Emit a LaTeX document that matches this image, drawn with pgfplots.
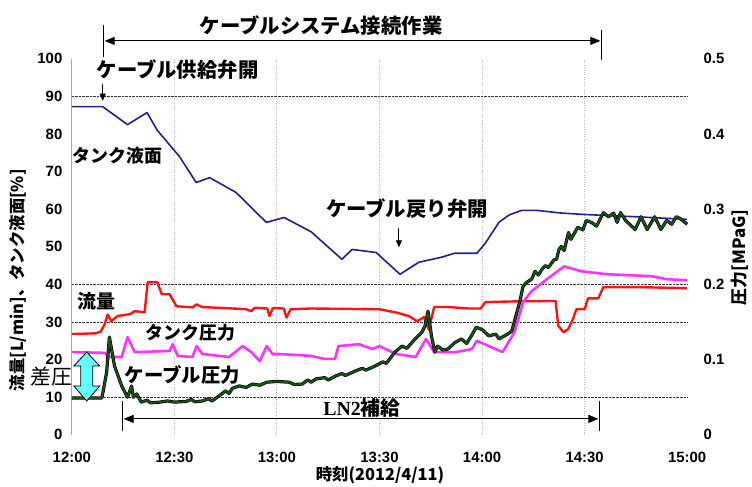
\documentclass[border=0pt]{standalone}
\usepackage{pgfplots}
\pgfplotsset{compat=1.18}
\usepackage{pgfplotstable}
\usetikzlibrary{arrows.meta}
\usepackage{fontspec}
\setmainfont{Liberation Sans}
\newfontfamily\jp{Noto Sans CJK JP}
\newfontfamily\ser{Liberation Serif}
\definecolor{cblue}{RGB}{32,32,140}
\definecolor{cred}{RGB}{255,20,20}
\definecolor{cmag}{RGB}{255,51,255}
\definecolor{cgreen}{RGB}{30,80,30}
\definecolor{ccyan}{RGB}{102,255,255}

\pgfplotstableread{
t v
0 87.3
9 87.3
16.3 82.5
22 85.7
25 81
31.5 74
36.4 67.1
40.3 68.4
48 64.5
56.9 56.5
62.1 57.8
70 54
79 46.7
82 49.3
89 48.5
96 42.7
101.5 45.9
108 47.2
112 48.3
118.5 48.3
121 51
125 56.6
128 58.5
131.6 59.7
136 59.7
143 59
150 58.6
165 58
180 57.3
}\tblue

\pgfplotstableread{
t v
0 26.8
7 27
8.5 27.5
9.6 29.4
10.5 32
11.5 30.2
13.4 31.6
17 32.1
18.4 32.9
21.3 32.6
22.2 40.6
25 40.6
26.3 37.4
28.6 37.4
30.6 34.2
35.3 33.9
36.5 34.7
38 34
45 33.7
51 33.4
52.5 32.9
53.5 33.8
57.2 33.6
57.8 31.6
58.8 33.7
62 33.6
62.8 31.2
64 33.4
70 33.6
80 33.5
90 33.4
95 32.5
98.6 31.6
101 30.2
103 31.3
104.4 28
106 34
110 34
116 33.6
119.6 33.6
121 35.3
130 35.5
141.5 35.6
142.3 29
143.8 27.3
145.2 28.1
146.6 30.8
147.6 33.4
150 33.4
151 36.3
154 36.3
155.5 39.3
165 39.3
180 39
}\tred

\pgfplotstableread{
t v
0 22
9.6 21.8
11 20.7
14.6 20.7
16.3 26
18.4 22
28.6 22.3
29.5 24.1
31 21
35.3 20.7
36.5 23.6
38.2 21.5
46 20.7
50 23.6
52.5 22
55 19.6
57 23.6
58.7 21.5
60.7 21.5
70 21
73.8 20.2
77 20.2
78 23.6
84 24.1
88 22.8
90 23.6
94.8 21.5
100.6 20.7
103.6 25.5
106 22
112.3 22
117 22.8
118.5 25
126 22
129.5 27.3
132 35.3
134.5 38.2
139 41.4
144 44.8
149 43.5
156.7 42.7
169.5 42.2
174 41.4
180 41.1
}\tmag

\pgfplotstableread{
t v
0 9.8
8.8 9.8
10.2 16.7
11 26
12.5 18.3
14.6 13
16.3 10
17.5 13
18 10
19 10.9
20.3 8.7
22 9.2
23 8.5
25.7 8.7
28 9
30 8.7
33.5 8.9
35 9.4
36 8.8
38.2 9
40 9.6
41 9
43 10.3
45 11.7
46 11
47 12.4
49 13
51 12.6
52.8 13.5
55 13.2
57 14
60 14.2
63.6 14
65 13.4
67.4 13.5
69 14.6
70 14
71.5 14.9
74 15.2
75 14.6
77.3 15.7
79 16.3
80 15.8
83 17
85 17.7
86 17.2
88.7 18.3
91 19.4
92 19
94.5 22
96.6 23.6
98 23
100.4 25.5
102.4 27.3
103.3 28.9
104.2 32.9
105.2 26.3
106.2 22
107 23.6
108.5 22.6
110 22.8
112 24.5
114 25.5
115.5 24.3
117 26.5
118.3 28.6
120 28
122 26.3
124 26.8
125 25.5
127.5 26.8
128.7 27.6
130 32
131 35.3
132 39.5
133 40.5
134.5 41.4
135.5 43.5
136.5 42.5
137.5 44
138.5 45
139.4 44.5
141 46.5
141.8 46.7
142.5 49.3
143.2 50.1
144 49
145.3 53.8
146 52
148 55.2
149.5 54.5
150.5 57
152 56.5
153.5 55.5
155.5 59.1
157 58
158.5 59
159.5 56.5
160.5 59.1
162 57
164.8 54.6
166.5 58
168.3 54.6
170.5 58
172.3 54.6
174 57
175.5 56
176.8 58
178 57.5
180 56
}\tgreen

\begin{document}
\begin{tikzpicture}
\begin{scope}[x=1bp,y=-1bp,shift={(-72,-436)}]
\path[use as bounding box] (0,0) rectangle (752,483);
\end{scope}

\begin{axis}[
  scale only axis, width=617bp, height=377bp,
  xmin=0, xmax=180, ymin=0, ymax=100,
  axis x line*=bottom, axis y line*=left,
  axis line style={-},
  x axis line style={draw=none},
  y axis line style={draw=gray!70, line width=0.8bp},
  xtick={0,30,60,90,120,150,180},
  xticklabels={12:00,12:30,13:00,13:30,14:00,14:30,15:00},
  ytick={0,10,20,30,40,50,60,70,80,90,100},
  major tick length=0pt,
  extra x ticks={30,60,90,120,150}, extra x tick labels={},
  extra x tick style={grid=major, major grid style={gray!55, dotted, line width=0.9bp}},
  extra y ticks={10,30,40,90}, extra y tick labels={},
  extra y tick style={grid=major, major grid style={black!80, densely dotted, line width=0.8bp}},
  tick label style={font=\fontsize{15}{15}\selectfont\bfseries},
  /pgf/number format/assume math mode=true,
  xticklabel style={yshift=-14bp},
  yticklabel style={xshift=-6bp},
  clip=false,
]
\addplot[cblue, line width=1.6bp, line join=round] table[x=t,y=v] {\tblue};
\addplot[cred, line width=2.4bp, line join=round] table[x=t,y=v] {\tred};
\addplot[cmag, line width=2.6bp, line join=round] table[x=t,y=v] {\tmag};
\addplot[black, line width=3.2bp, line join=round] table[x=t,y=v] {\tgreen};
\addplot[cgreen, line width=1.9bp, line join=round] table[x=t,y=v] {\tgreen};
\end{axis}

\begin{axis}[
  scale only axis, width=617bp, height=377bp,
  xmin=0, xmax=180, ymin=0, ymax=0.5,
  hide x axis,
  axis y line*=right,
  axis line style={-},
  y axis line style={draw=none},
  ytick={0,0.1,0.2,0.3,0.4,0.5},
  yticklabels={0,0.1,0.2,0.3,0.4,0.5},
  major tick length=0pt,
  tick label style={font=\fontsize{15}{15}\selectfont\bfseries},
  yticklabel style={xshift=13bp},
]
\end{axis}

\begin{scope}[x=1bp,y=-1bp,shift={(-72,-436)}]
% top arrow
\node[font=\jp\bfseries\fontsize{20.5}{20.5}\selectfont] at (322,26) {ケーブルシステム接続作業};
\draw[line width=1.3bp] (104,25) -- (104,57);
\draw[line width=1.3bp] (603,30) -- (603,60);
\draw[line width=1bp, {Triangle[length=10bp,width=8bp]}-{Triangle[length=10bp,width=8bp]}] (105,41) -- (602,41);
% valve open
\node[font=\jp\bfseries\fontsize{20.5}{20.5}\selectfont] at (178,70) {ケーブル供給弁開};
\draw[line width=1bp, -{Triangle[length=7bp,width=6bp]}] (103,84) -- (103,101);
\node[font=\jp\bfseries\fontsize{18}{18}\selectfont] at (117.5,156) {タンク液面};
\node[font=\jp\bfseries\fontsize{20.5}{20.5}\selectfont] at (408,209) {ケーブル戻り弁開};
\draw[line width=1bp, -{Triangle[length=7bp,width=6bp]}] (400,229) -- (400,248);
\node[font=\jp\bfseries\fontsize{19}{19}\selectfont] at (97,302) {流量};
\node[font=\jp\bfseries\fontsize{18}{18}\selectfont] at (191,334) {タンク圧力};
\node[font=\jp\bfseries\fontsize{19.5}{19.5}\selectfont] at (183,376) {ケーブル圧力};
% differential pressure arrow
\draw[fill=ccyan, line width=0.8bp] (87,353) -- (100,367) -- (93,367) -- (93,387) -- (100,387) -- (87,402) -- (74,387) -- (81,387) -- (81,367) -- (74,367) -- cycle;
\node[font=\jp\fontsize{21}{21}\selectfont] at (52,378) {差圧};
% LN2
\node[font=\fontsize{20}{20}\selectfont] at (363,409) {{\ser\bfseries LN2}{\jp\bfseries 補給}};
\draw[line width=1.1bp] (123,402) -- (123,432);
\draw[line width=1.1bp] (601,402) -- (601,432);
\draw[line width=0.9bp, {Triangle[length=10bp,width=8bp]}-{Triangle[length=10bp,width=8bp]}] (124,420) -- (600,420);
% axis labels
\node[font=\jp\bfseries\fontsize{16.5}{16.5}\selectfont] at (381,476) {時刻(2012/4/11)};
\node[font=\jp\bfseries\fontsize{16.5}{16.5}\selectfont, rotate=90] at (18,281) {流量[L/min]、タンク液面[\%]};
\node[font=\jp\bfseries\fontsize{17}{17}\selectfont, rotate=90] at (742,258) {圧力[MPaG]};
\end{scope}
\end{tikzpicture}
\end{document}
